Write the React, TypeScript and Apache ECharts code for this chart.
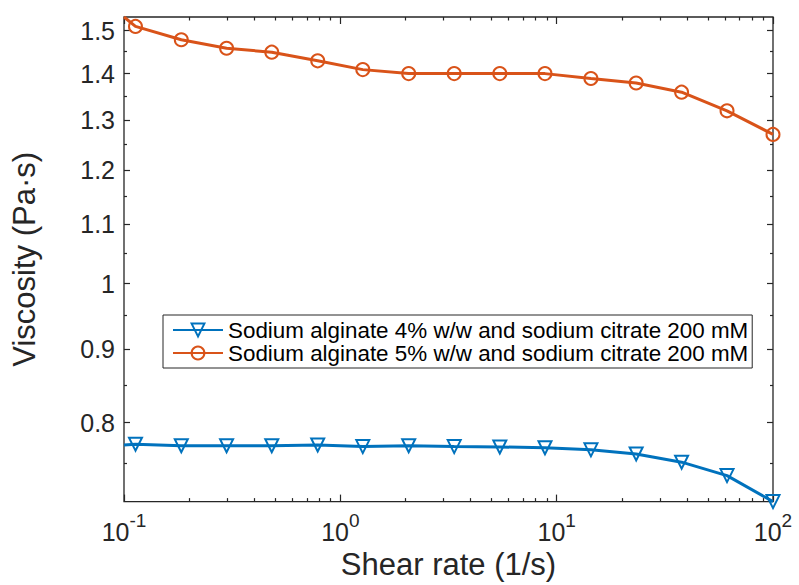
import React, { useEffect, useRef } from 'react';
import * as echarts from 'echarts';

// Shear rate (1/s); the first point is the start of the line (no marker)
const shearRate = [0.1, 0.113, 0.184, 0.298, 0.482, 0.786, 1.27, 2.07, 3.36, 5.46, 8.83, 14.4, 23.3, 37.8, 61.3, 100];
const markerShown = [false, true, true, true, true, true, true, true, true, true, true, true, true, true, true, true];
// Viscosity (Pa·s)
const alginate4 = [0.772, 0.773, 0.771, 0.771, 0.771, 0.772, 0.77, 0.771, 0.77, 0.7695, 0.7686, 0.766, 0.761, 0.751, 0.735, 0.705];
const alginate5 = [1.533, 1.51, 1.478, 1.458, 1.449, 1.429, 1.409, 1.4, 1.4, 1.4, 1.4, 1.389, 1.379, 1.359, 1.319, 1.27];
const seriesNames = [
  'Sodium alginate 4% w/w and sodium citrate 200 mM',
  'Sodium alginate 5% w/w and sodium citrate 200 mM',
];

const xRange = [0.1, 100];
const yRange = [0.705, 1.533];
const xMajorTicks = [0.1, 1, 10, 100];
const xMinorTicks = [0.2, 0.3, 0.4, 0.5, 0.6, 0.7, 0.8, 0.9, 2, 3, 4, 5, 6, 7, 8, 9, 20, 30, 40, 50, 60, 70, 80, 90];
const yMajorTicks = [0.8, 0.9, 1.0, 1.1, 1.2, 1.3, 1.4, 1.5];
const yMinorTicks = [0.75, 0.85, 0.95, 1.05, 1.15, 1.25, 1.35, 1.45];

const FONT = '"Liberation Sans", Arial, Helvetica, sans-serif';
const INK = '#262626';
const BLUE = '#0072BD';
const ORANGE = '#D95319';

export default function App() {
  const ref = useRef<HTMLDivElement>(null);

  useEffect(() => {
    if (!ref.current) return;
    const chart = echarts.init(ref.current, undefined, { renderer: 'svg' });

    const tickAxisX = (position: string, ticks: number[], len: number, extra: any = {}) => ({
      type: 'log',
      logBase: 10,
      min: xRange[0],
      max: xRange[1],
      position,
      axisLine: { show: false },
      splitLine: { show: false },
      axisTick: { show: true, inside: true, length: len, customValues: ticks, lineStyle: { color: INK, width: 1.2 } },
      axisLabel: { show: false },
      ...extra,
    });
    const tickAxisY = (position: string, ticks: number[], len: number, extra: any = {}) => ({
      type: 'log',
      logBase: 10,
      min: yRange[0],
      max: yRange[1],
      position,
      axisLine: { show: false },
      splitLine: { show: false },
      axisTick: { show: true, inside: true, length: len, customValues: ticks, lineStyle: { color: INK, width: 1.2 } },
      axisLabel: { show: false },
      ...extra,
    });

    const makeData = (ys: number[]) =>
      shearRate.map((x, i) => (markerShown[i] ? { value: [x, ys[i]] } : { value: [x, ys[i]], symbol: 'none' }));

    chart.setOption({
      animation: false,
      backgroundColor: '#ffffff',
      grid: {
        left: 124,
        right: 26,
        top: 17,
        bottom: 78,
        show: true,
        borderColor: INK,
        borderWidth: 1.3,
        backgroundColor: 'transparent',
      },
      legend: {
        orient: 'vertical',
        left: 163,
        top: 315,
        data: seriesNames,
        backgroundColor: '#ffffff',
        borderColor: INK,
        borderWidth: 1,
        padding: [4, 4, 4, 9],
        itemWidth: 50,
        itemHeight: 16,
        itemGap: 1,
        textStyle: { fontFamily: FONT, fontSize: 22.4, color: '#000', lineHeight: 22 },
      },
      xAxis: [
        tickAxisX('bottom', xMajorTicks, 7, {
          name: 'Shear rate (1/s)',
          nameLocation: 'middle',
          nameGap: 44,
          nameTextStyle: { fontFamily: FONT, fontSize: 31, color: INK },
          axisLabel: {
            show: true,
            customValues: xMajorTicks,
            margin: 9,
            formatter: (v: number) => `{b|10}{s|${Math.round(Math.log10(v))}}`,
            rich: {
              b: { fontFamily: FONT, fontSize: 25, color: INK, lineHeight: 42 },
              s: { fontFamily: FONT, fontSize: 19, color: INK, lineHeight: 19, verticalAlign: 'top' },
            },
          },
        }),
        tickAxisX('bottom', xMinorTicks, 3.5),
        tickAxisX('top', xMajorTicks, 7),
        tickAxisX('top', xMinorTicks, 3.5),
      ],
      yAxis: [
        tickAxisY('left', yMajorTicks, 6, {
          name: 'Viscosity (Pa·s)',
          nameLocation: 'middle',
          nameGap: 84,
          nameTextStyle: { fontFamily: FONT, fontSize: 31, color: INK },
          axisLabel: {
            show: true,
            customValues: yMajorTicks,
            margin: 9,
            fontFamily: FONT,
            fontSize: 25,
            color: INK,
            formatter: (v: number) => String(Math.round(v * 10) / 10),
          },
        }),
        tickAxisY('left', yMinorTicks, 3),
        tickAxisY('right', yMajorTicks, 6),
        tickAxisY('right', yMinorTicks, 3),
      ],
      series: [
        {
          name: seriesNames[0],
          type: 'line',
          xAxisIndex: 0,
          yAxisIndex: 0,
          data: makeData(alginate4),
          symbol: 'triangle',
          symbolRotate: 180,
          symbolSize: 13,
          clip: false,
          lineStyle: { color: BLUE, width: 3 },
          itemStyle: { color: 'rgba(255,255,255,0)', borderColor: BLUE, borderWidth: 2 },
          z: 3,
        },
        {
          name: seriesNames[1],
          type: 'line',
          xAxisIndex: 0,
          yAxisIndex: 0,
          data: makeData(alginate5),
          symbol: 'circle',
          symbolSize: 13,
          clip: false,
          lineStyle: { color: ORANGE, width: 3 },
          itemStyle: { color: 'rgba(255,255,255,0)', borderColor: ORANGE, borderWidth: 2 },
          z: 3,
        },
      ],
    });

    return () => chart.dispose();
  }, []);

  return <div ref={ref} style={{ position: 'fixed', left: 0, top: 0, width: 799, height: 585 }} />;
}
